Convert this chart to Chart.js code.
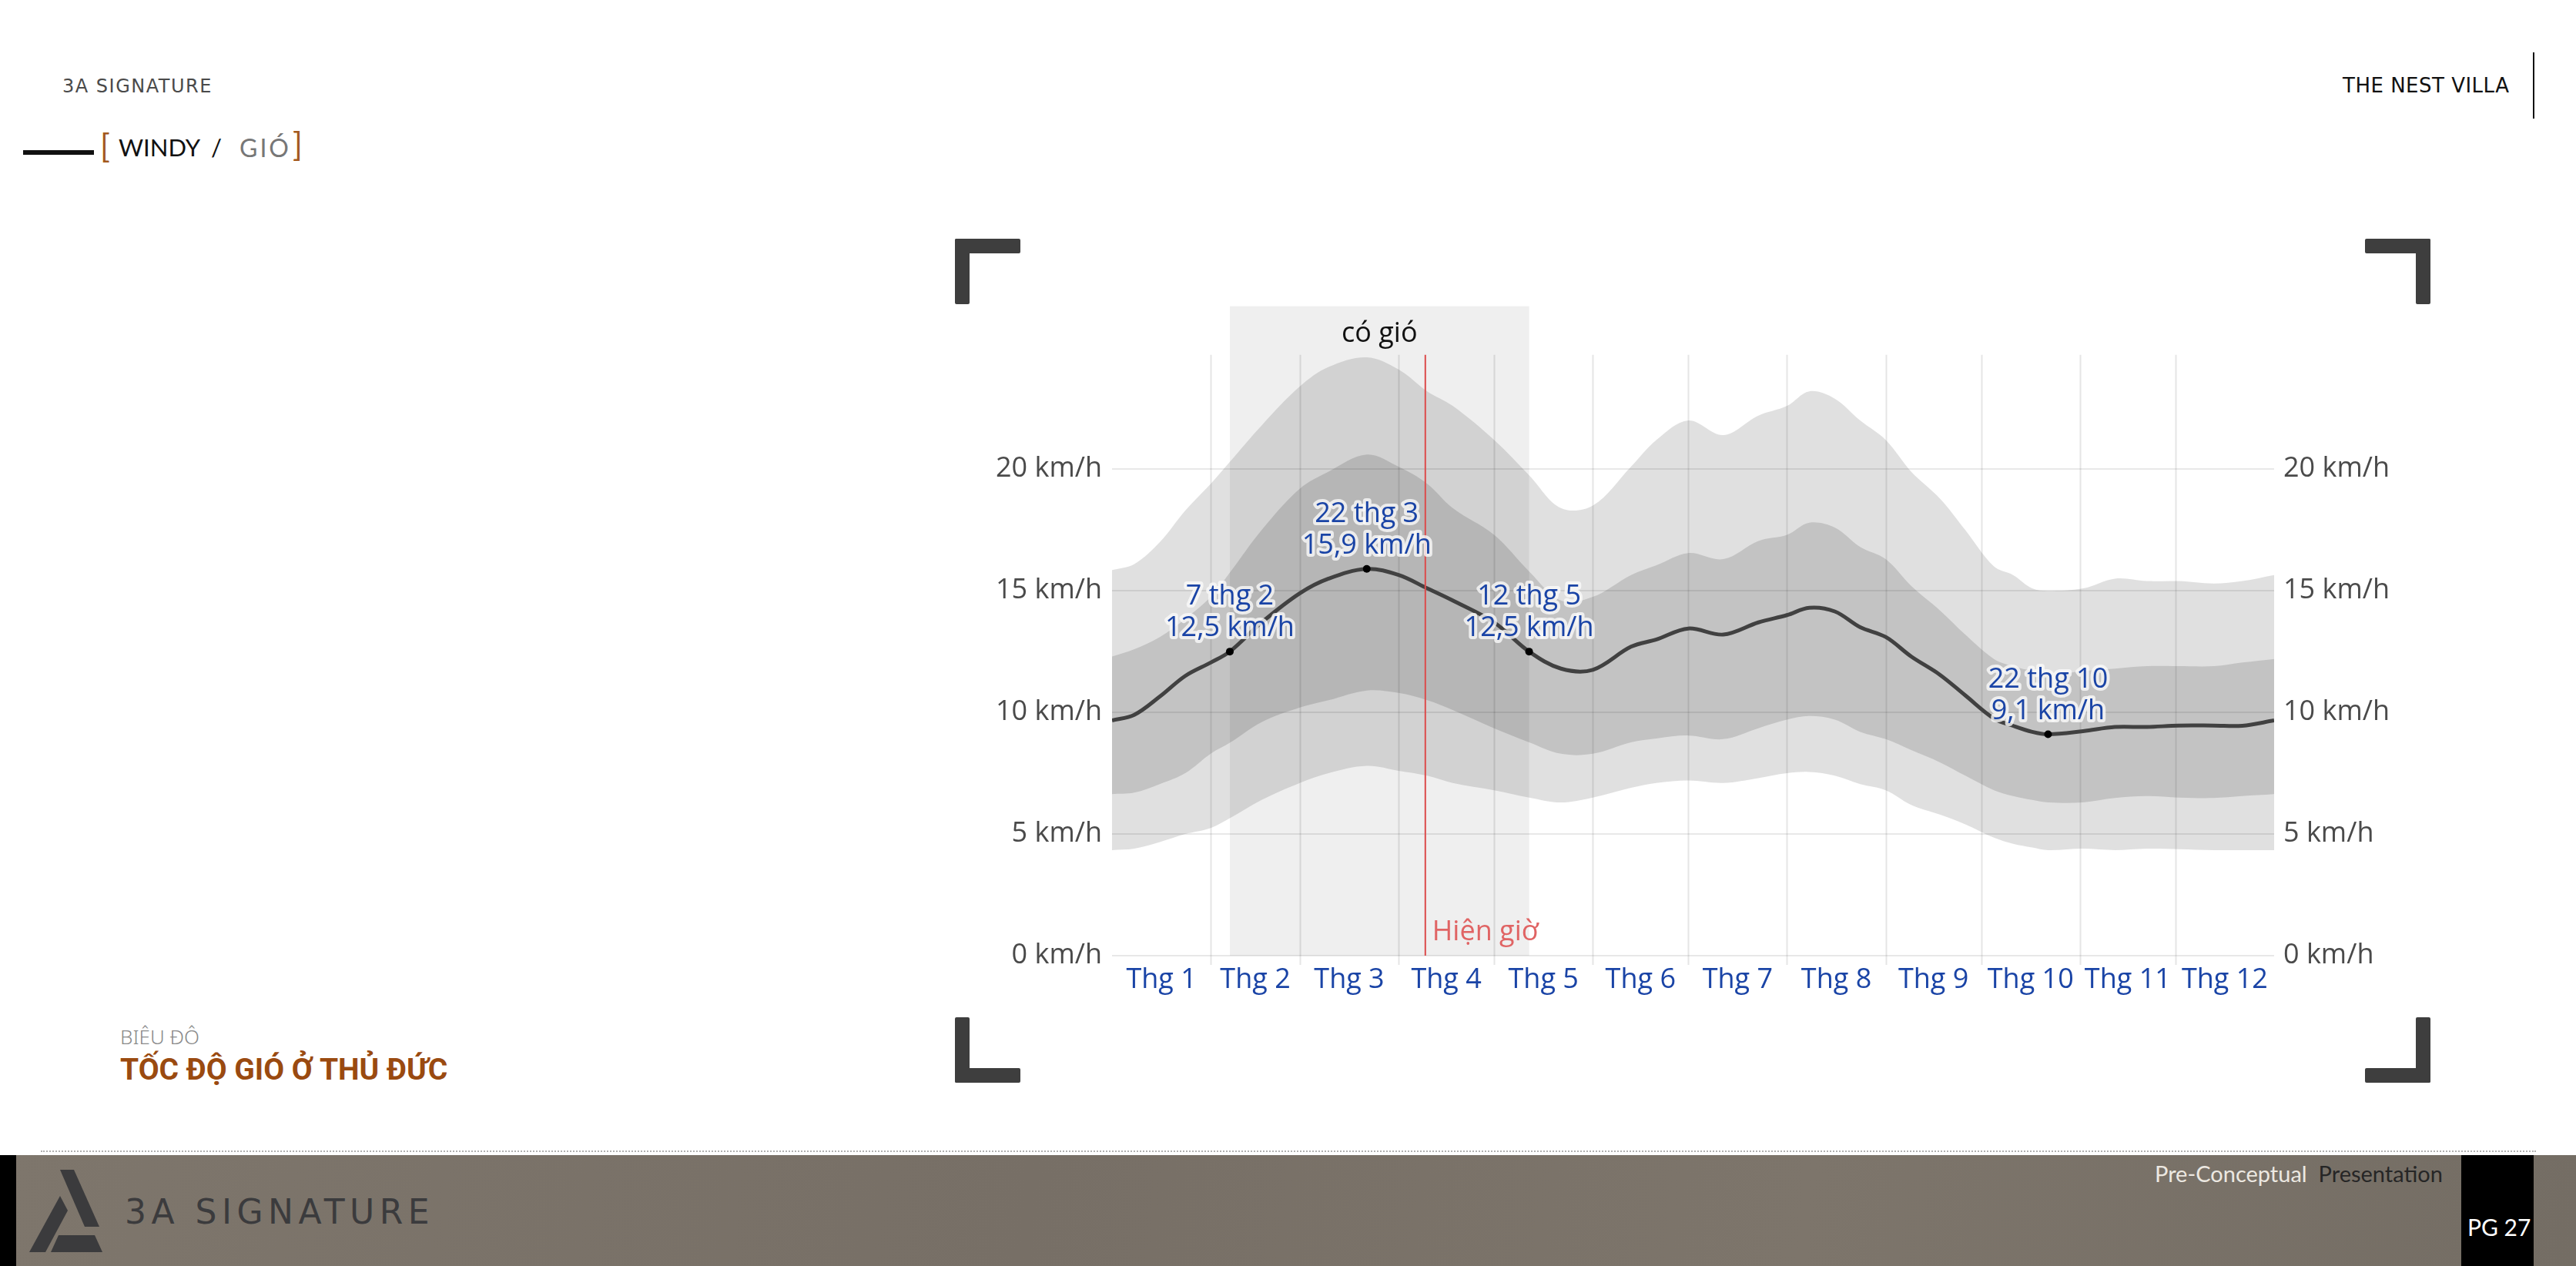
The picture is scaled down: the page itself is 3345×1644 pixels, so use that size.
<!DOCTYPE html>
<html>
<head>
<meta charset="utf-8">
<script src="https://cdn.jsdelivr.net/npm/chart.js@4.4.1/dist/chart.umd.min.js"></script>
<style>
    body{
        margin:0;
        width:3345px;
        height:1644px;
        position:relative;
        overflow:hidden;
        background:#ffffff;
        font-family:"Noto Sans", sans-serif;
    }
    .abs{ position:absolute; white-space:nowrap; }
    .corner{ position:absolute; background:#3e3e3e; border-radius:2px; }
</style>
</head>
<body>

<!-- ================= HEADER ================= -->
<div class="abs" style="left:81px; top:98px; font-family:'DejaVu Sans'; font-size:24px; color:#4a4a4a; letter-spacing:1.5px;">3A SIGNATURE</div>
<div class="abs" style="left:3042px; top:96px; font-family:'DejaVu Sans'; font-size:26px; color:#111; letter-spacing:0.5px;">THE NEST VILLA</div>
<div class="abs" style="left:3289px; top:68px; width:2px; height:86px; background:#111;"></div>

<div class="abs" style="left:30px; top:195px; width:92px; height:6px; background:#111;"></div>
<div class="abs" style="left:130px; top:164px; font-family:Lato; font-size:42px; color:#a35a1e;">[</div>
<div class="abs" style="left:154px; top:172px; font-family:Lato; font-size:31px; color:#111;">WINDY</div>
<div class="abs" style="left:274px; top:172px; font-family:Lato; font-size:31px; color:#111;">/</div>
<div class="abs" style="left:311px; top:172px; font-family:Lato; font-size:32px; color:#777; letter-spacing:3px;">GIÓ</div>
<div class="abs" style="left:380px; top:162px; font-family:Lato; font-size:42px; color:#a35a1e;">]</div>

<!-- ================= CORNER MARKS ================= -->
<div class="corner" style="left:1240px; top:310px; width:85px; height:19px;"></div>
<div class="corner" style="left:1240px; top:310px; width:19px; height:85px;"></div>
<div class="corner" style="left:3071px; top:310px; width:85px; height:19px;"></div>
<div class="corner" style="left:3137px; top:310px; width:19px; height:85px;"></div>
<div class="corner" style="left:1240px; top:1387px; width:85px; height:19px;"></div>
<div class="corner" style="left:1240px; top:1321px; width:19px; height:85px;"></div>
<div class="corner" style="left:3071px; top:1387px; width:85px; height:19px;"></div>
<div class="corner" style="left:3137px; top:1321px; width:19px; height:85px;"></div>

<!-- ================= CHART ================= -->
<canvas id="windChart" width="1960" height="941" style="position:absolute; left:1240px; top:363px;"></canvas>

<!-- ================= CAPTION ================= -->
<div class="abs" style="left:156px; top:1328px; font-size:26px; color:#8a8a8a; font-weight:300;">BIÊU ĐÔ</div>
<div class="abs" style="left:156px; top:1366px; font-family:'Liberation Sans Narrow', Roboto, sans-serif; font-size:39px; font-weight:bold; color:#9a4a10;">TỐC ĐỘ GIÓ Ở THỦ ĐỨC</div>

<!-- ================= FOOTER ================= -->
<div class="abs" style="left:53px; top:1494px; width:3240px; border-top:2px dotted #b0b0b0;"></div>
<div class="abs" style="left:0; top:1500px; width:3345px; height:144px; background:linear-gradient(100deg,#7e766c 0%,#776f66 40%,#7d756b 70%,#746d64 100%);"></div>
<div class="abs" style="left:0; top:1500px; width:21px; height:144px; background:#000;"></div>
<svg class="abs" style="left:0; top:1500px;" width="200" height="144" viewBox="0 1500 200 144">
    <polygon points="78,1519 96,1519 129,1593 110,1593" fill="#3b3b3d"/>
    <polygon points="78,1553 88,1572 59,1626 38,1626" fill="#3b3b3d"/>
    <polygon points="76,1604 123,1604 133,1626 66,1626" fill="#3b3b3d"/>
</svg>
<div class="abs" style="left:162px; top:1548px; font-family:'DejaVu Sans'; font-size:44px; color:#3b3b3d; letter-spacing:6.5px;">3A SIGNATURE</div>
<div class="abs" style="left:2798px; top:1506px; font-family:Lato; font-size:29px; color:#ece8e1;">Pre-Conceptual&nbsp; <span style="color:#262626;">Presentation</span></div>
<div class="abs" style="left:3196px; top:1500px; width:94px; height:144px; background:#000;"></div>
<div class="abs" style="left:3204px; top:1575px; font-family:Lato; font-size:30px; color:#fff;">PG 27</div>

<script>
// ================= DATA =================
let days = [0, 7, 15, 23, 31, 37, 47, 59, 68, 80, 90, 99, 107, 120, 131, 141, 151, 163, 171, 181, 192, 203, 212, 219, 227, 235, 243, 251, 260, 268, 277, 283, 289, 294, 305, 315, 325, 335, 346, 355, 365];

let p90 = [15.85, 16.1, 17.0, 18.3, 19.4, 20.3, 21.8, 23.4, 24.2, 24.6, 24.1, 23.2, 22.6, 21.2, 19.75, 18.4, 18.5, 20.1, 21.2, 22.0, 21.4, 22.2, 22.6, 23.2, 22.9, 22.0, 21.2, 19.9, 18.8, 17.5, 16.0, 15.65, 15.1, 15.0, 15.1, 15.5, 15.4, 15.4, 15.3, 15.4, 15.65];
let p75 = [12.3, 12.6, 13.1, 13.85, 14.75, 15.75, 17.5, 19.2, 19.9, 20.6, 20.1, 19.4, 18.4, 17.3, 15.8, 14.6, 14.75, 15.65, 16.05, 16.55, 16.3, 17.05, 17.3, 17.8, 17.6, 16.8, 16.3, 15.2, 14.2, 13.2, 12.2, 11.9, 11.7, 11.55, 11.7, 11.8, 11.9, 11.9, 11.9, 12.05, 12.2];
let median = [9.67, 9.9, 10.65, 11.5, 12.05, 12.5, 13.7, 14.9, 15.5, 15.9, 15.65, 15.1, 14.6, 13.7, 12.5, 11.8, 11.75, 12.7, 13.0, 13.45, 13.2, 13.7, 14.0, 14.3, 14.15, 13.5, 13.1, 12.3, 11.55, 10.7, 9.75, 9.45, 9.2, 9.1, 9.23, 9.4, 9.4, 9.46, 9.46, 9.45, 9.67];
let p25 = [6.64, 6.7, 7.05, 7.5, 8.3, 8.75, 9.6, 10.2, 10.5, 10.9, 10.8, 10.5, 10.1, 9.35, 8.77, 8.3, 8.3, 8.77, 8.93, 9.05, 8.9, 9.35, 9.7, 9.85, 9.7, 9.2, 8.9, 8.45, 7.95, 7.4, 6.8, 6.56, 6.4, 6.3, 6.3, 6.48, 6.56, 6.5, 6.48, 6.56, 6.64];
let p10 = [4.34, 4.4, 4.67, 5.0, 5.25, 5.65, 6.4, 7.1, 7.5, 7.8, 7.6, 7.4, 7.1, 6.8, 6.5, 6.3, 6.5, 6.9, 7.1, 7.2, 7.1, 7.3, 7.5, 7.55, 7.4, 7.05, 6.8, 6.2, 5.8, 5.4, 4.85, 4.6, 4.45, 4.34, 4.4, 4.34, 4.4, 4.38, 4.34, 4.34, 4.34];

let yTicks = [0, 5, 10, 15, 20];
let monthLabels = ["Thg 1", "Thg 2", "Thg 3", "Thg 4", "Thg 5", "Thg 6", "Thg 7", "Thg 8", "Thg 9", "Thg 10", "Thg 11", "Thg 12"];
let monthMid = [15.5, 45, 74.5, 105, 135.5, 166, 196.5, 227.5, 258, 288.5, 319, 349.5];
let monthEdges = [31, 59, 90, 120, 151, 181, 212, 243, 273, 304, 334];

let windyRange = [37, 131];
let windyLabel = "có gió";
let nowDay = 98.4;
let nowLabel = "Hiện giờ";

let calloutDays = [37, 80, 131, 294];
let calloutValues = [12.5, 15.9, 12.5, 9.1];
let calloutDates = ["7 thg 2", "22 thg 3", "12 thg 5", "22 thg 10"];

// ================= HELPERS =================
function toPoints(values){

    return days.map((d, i) => ({ x: d, y: values[i] }));

}

let BLUE = "#1a44a6";
let FONT = "'Open Sans', sans-serif";

/* ================= DECORATION PLUGIN ================= */
let decorations = {

    id: "decorations",

    beforeDraw(chart){

        let ctx = chart.ctx;
        let x = chart.scales.x;
        let y = chart.scales.y;
        let area = chart.chartArea;

        // windy season shade
        ctx.save();
        ctx.fillStyle = "#efefef";
        let x0 = x.getPixelForValue(windyRange[0]);
        let x1 = x.getPixelForValue(windyRange[1]);
        ctx.fillRect(x0, area.top, x1 - x0, y.getPixelForValue(0) - area.top);

        // month boundary lines
        ctx.strokeStyle = "rgba(0,0,0,0.1)";
        ctx.lineWidth = 2;
        let top = y.getPixelForValue(24.7);
        monthEdges.forEach(d => {
            let px = Math.round(x.getPixelForValue(d)) + 0.5;
            ctx.beginPath();
            ctx.moveTo(px, top);
            ctx.lineTo(px, y.getPixelForValue(0) + 12);
            ctx.stroke();
        });
        ctx.restore();

    },

    afterDatasetsDraw(chart){

        let ctx = chart.ctx;
        let x = chart.scales.x;
        let y = chart.scales.y;

        ctx.save();

        // now line
        let nx = x.getPixelForValue(nowDay);
        ctx.strokeStyle = "#dc4b4b";
        ctx.lineWidth = 2;
        ctx.beginPath();
        ctx.moveTo(nx, y.getPixelForValue(24.7));
        ctx.lineTo(nx, y.getPixelForValue(0));
        ctx.stroke();

        ctx.font = "36px " + FONT;
        ctx.fillStyle = "#e06464";
        ctx.textAlign = "left";
        ctx.textBaseline = "middle";
        ctx.fillText(nowLabel, nx + 9, y.getPixelForValue(0) - 30);

        // windy label
        ctx.fillStyle = "#111";
        ctx.textAlign = "center";
        ctx.fillText(windyLabel,
            (x.getPixelForValue(windyRange[0]) + x.getPixelForValue(windyRange[1])) / 2,
            chart.chartArea.top + 36);

        // callouts
        calloutDays.forEach((d, i) => {

            let px = x.getPixelForValue(d);
            let py = y.getPixelForValue(calloutValues[i]);
            let value = calloutValues[i].toFixed(1).replace(".", ",") + " km/h";

            ctx.fillStyle = "#000";
            ctx.beginPath();
            ctx.arc(px, py, 5, 0, Math.PI * 2);
            ctx.fill();

            ctx.font = "36px " + FONT;
            ctx.textAlign = "center";
            ctx.lineJoin = "round";
            ctx.lineWidth = 8;
            ctx.strokeStyle = "rgba(250,250,250,0.8)";
            ctx.strokeText(calloutDates[i], px, py - 71);
            ctx.strokeText(value, px, py - 30);
            ctx.fillStyle = BLUE;
            ctx.fillText(calloutDates[i], px, py - 71);
            ctx.fillText(value, px, py - 30);

        });

        ctx.restore();

    }

};

/* ================= CHART ================= */
let yAxisBase = {
    min: 0,
    max: 26.7,
    afterBuildTicks: s => { s.ticks = yTicks.map(v => ({ value: v })); },
    border: { display: false },
    ticks: {
        color: "#4a4a4a",
        font: { family: "Open Sans", size: 36 },
        callback: v => v + " km/h"
    }
};

new Chart(document.getElementById("windChart"), {

    type: "line",

    data: {

        datasets: [
            {
                data: toPoints(p10),
                borderWidth: 0,
                pointRadius: 0,
                fill: false,
                tension: 0.35
            },
            {
                data: toPoints(p90),
                borderWidth: 0,
                pointRadius: 0,
                backgroundColor: "rgba(0,0,0,0.12)",
                fill: "-1",
                tension: 0.35
            },
            {
                data: toPoints(p25),
                borderWidth: 0,
                pointRadius: 0,
                fill: false,
                tension: 0.35
            },
            {
                data: toPoints(p75),
                borderWidth: 0,
                pointRadius: 0,
                backgroundColor: "rgba(0,0,0,0.13)",
                fill: "-1",
                tension: 0.35
            },
            {
                data: toPoints(median),
                borderColor: "#565656",
                borderWidth: 5,
                pointRadius: 0,
                fill: false,
                tension: 0.35
            }
        ]

    },

    options: {

        responsive: false,
        animation: false,
        devicePixelRatio: 1,
        layout: { padding: 0 },

        plugins: {
            legend: { display: false },
            tooltip: { enabled: false }
        },

        scales: {

            x: {
                type: "linear",
                min: 0,
                max: 365,
                afterBuildTicks: s => { s.ticks = monthMid.map(v => ({ value: v })); },
                afterFit: s => { s.height = 63; },
                grid: { display: false },
                border: { display: false },
                ticks: {
                    color: BLUE,
                    padding: 2,
                    maxRotation: 0,
                    autoSkip: false,
                    font: { family: "Open Sans", size: 36 },
                    callback: (v, i) => monthLabels[i]
                }
            },

            y: Object.assign({}, yAxisBase, {
                position: "left",
                afterFit: s => { s.width = 204; },
                grid: { color: "rgba(0,0,0,0.09)", lineWidth: 2, drawTicks: false },
                ticks: Object.assign({}, yAxisBase.ticks, { padding: 13 })
            }),

            y2: Object.assign({}, yAxisBase, {
                position: "right",
                afterFit: s => { s.width = 247; },
                grid: { display: false, drawTicks: false },
                ticks: Object.assign({}, yAxisBase.ticks, { padding: 12 })
            })

        }

    },

    plugins: [decorations]

});
</script>
</body>
</html>
